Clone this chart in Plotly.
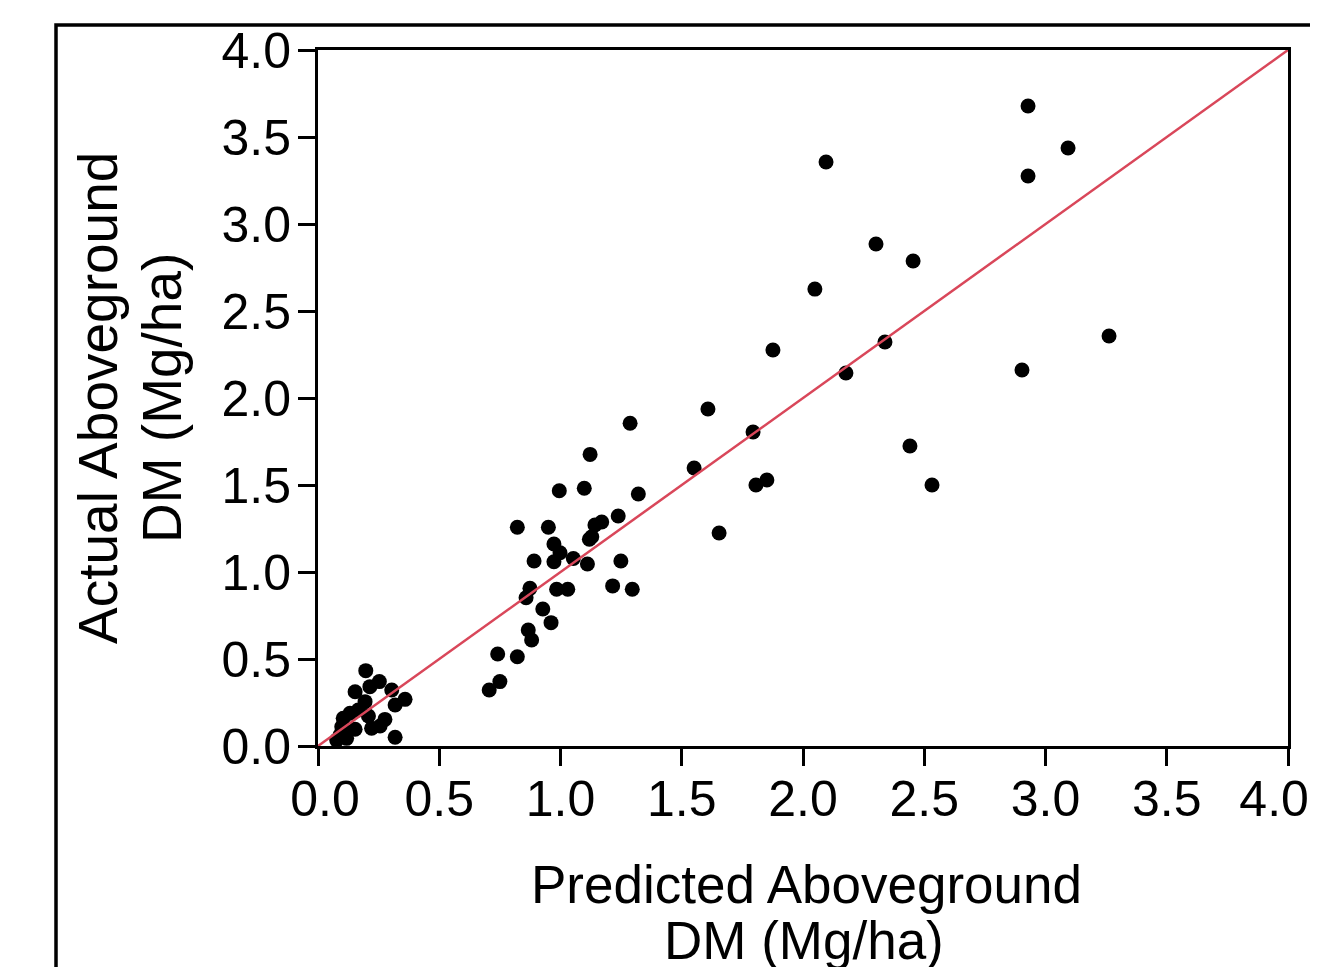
import plotly.graph_objects as go

predicted = [2.928, 3.093, 2.928, 2.095, 2.301, 2.454, 2.049, 3.262, 2.338, 1.876,
             2.177, 2.903, 1.608, 1.794, 2.441, 1.551, 1.851, 1.806, 2.532, 1.654,
             1.287, 1.122, 0.995, 1.098, 1.321, 0.822, 0.950, 1.238, 1.170, 1.142,
             1.129, 1.119, 0.973, 0.998, 0.891, 0.973, 1.053, 1.111, 1.249, 0.874,
             0.858, 0.984, 1.030, 1.215, 1.296, 0.927, 0.961, 0.867, 0.881, 0.741,
             0.822, 0.750, 0.706,
             0.197, 0.253, 0.214, 0.153, 0.304, 0.359, 0.318, 0.194, 0.166, 0.208,
             0.132, 0.104, 0.276, 0.256, 0.221, 0.153, 0.098, 0.091, 0.077, 0.118,
             0.318]
actual = [3.678, 3.437, 3.276, 3.356, 2.885, 2.787, 2.626, 2.356, 2.322, 2.276,
          2.144, 2.161, 1.937, 1.805, 1.724, 1.598, 1.529, 1.500, 1.500, 1.224,
          1.855, 1.676, 1.467, 1.481, 1.448, 1.257, 1.257, 1.322, 1.287, 1.270,
          1.203, 1.188, 1.161, 1.111, 1.063, 1.059, 1.078, 1.046, 1.063, 0.906,
          0.852, 0.901, 0.901, 0.920, 0.901, 0.787, 0.709, 0.667, 0.609, 0.529,
          0.513, 0.370, 0.322,
          0.433, 0.370, 0.341, 0.312, 0.322, 0.268, 0.236, 0.255, 0.207, 0.172,
          0.188, 0.159, 0.153, 0.115, 0.102, 0.096, 0.111, 0.063, 0.034, 0.044,
          0.050]
line_x = [0.0, 4.0]
line_y = [0.0, 4.0]
tick_vals = [0.0, 0.5, 1.0, 1.5, 2.0, 2.5, 3.0, 3.5, 4.0]
y_tick_text = ["0.0", "0.5", "1.0", "1.5", "2.0", "2.5", "3.0", "3.5", "4.0"]
x_tick_text = ["\u00a00.0", "0.5", "1.0", "1.5", "2.0", "2.5", "3.0", "3.5",
               "4.0\u00a0\u00a0"]
x_title_lines = ["Predicted Aboveground", "DM (Mg/ha)"]
y_title_lines = ["Actual Aboveground", "DM (Mg/ha)"]

FONT = "Liberation Sans, Arial, sans-serif"

# page pixel -> paper coordinate helpers (page has an 8px body margin)
def px(X):
    return (X - 318) / 970.0

def py(Y):
    return (746 - Y) / 696.0

fig = go.Figure()
fig.add_trace(go.Scatter(x=predicted, y=actual, mode="markers",
                         marker=dict(color="black", size=15, line=dict(width=0)),
                         showlegend=False, cliponaxis=False))
fig.add_trace(go.Scatter(x=line_x, y=line_y, mode="lines",
                         line=dict(color="#d9475a", width=2.5), showlegend=False))

axis_common = dict(
    range=[0, 4], tickvals=tick_vals,
    showgrid=False, zeroline=False, showline=True, linecolor="black",
    linewidth=3, mirror=True, ticks="outside", ticklen=17, tickwidth=3,
    tickcolor="black", tickfont=dict(family=FONT, size=50, color="black"),
)

annotations = [
    dict(text=x_title_lines[0], x=px(806), y=py(884), xref="paper", yref="paper",
         xanchor="center", yanchor="middle", showarrow=False,
         font=dict(family=FONT, size=53, color="black")),
    dict(text=x_title_lines[1], x=px(804), y=py(940), xref="paper", yref="paper",
         xanchor="center", yanchor="middle", showarrow=False,
         font=dict(family=FONT, size=53, color="black")),
    dict(text=y_title_lines[0], x=px(98), y=py(398), xref="paper", yref="paper",
         xanchor="center", yanchor="middle", showarrow=False, textangle=-90,
         font=dict(family=FONT, size=55, color="black")),
    dict(text=y_title_lines[1], x=px(162), y=py(398), xref="paper", yref="paper",
         xanchor="center", yanchor="middle", showarrow=False, textangle=-90,
         font=dict(family=FONT, size=55, color="black")),
]

fig.update_layout(
    width=1318, height=967,
    margin=dict(l=310, r=38, t=42, b=229, autoexpand=False),
    paper_bgcolor="white", plot_bgcolor="white",
    font=dict(family=FONT, color="black"),
    xaxis=dict(**axis_common, ticktext=x_tick_text, ticklabeloverflow="allow",
               ticklabelstandoff=-10),
    yaxis=dict(**axis_common, ticktext=y_tick_text, ticklabelstandoff=-3),
    annotations=annotations,
    shapes=[dict(type="rect", xref="paper", yref="paper",
                 x0=px(56), x1=1.3, y0=-0.6, y1=py(25),
                 line=dict(color="black", width=3.5), fillcolor="rgba(0,0,0,0)",
                 layer="above")],
)

fig.write_html("out.html")
